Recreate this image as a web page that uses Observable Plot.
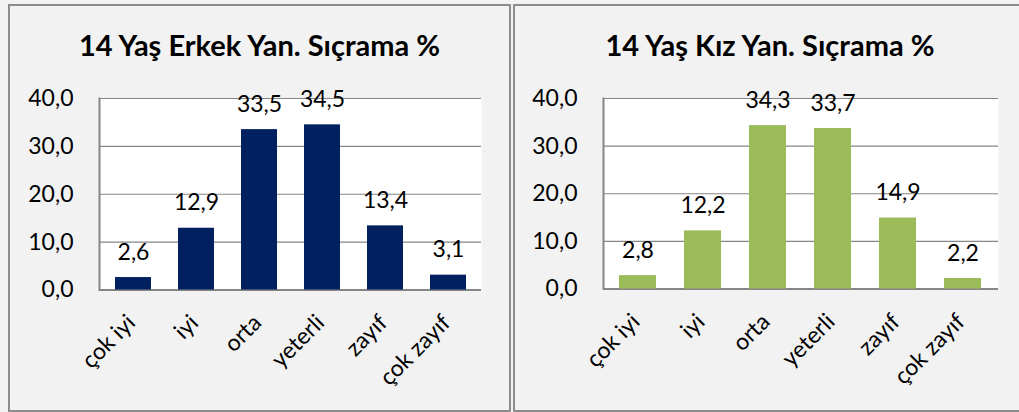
<!DOCTYPE html>
<html><head><meta charset="utf-8">
<script src="https://cdn.jsdelivr.net/npm/d3@7"></script>
<script src="https://cdn.jsdelivr.net/npm/@observablehq/plot@0.6"></script>
<style>
html,body{margin:0;padding:0;background:#f2f2f2;width:1019px;height:412px;overflow:hidden;font-family:Lato,"Open Sans",sans-serif;}
.panel{position:absolute;top:4px;height:408px;box-sizing:border-box;border:2px solid #8c8c8c;background:#f2f2f2;}
.title{position:absolute;left:0;right:0;text-align:center;font-weight:bold;font-size:29px;line-height:1;color:#000;white-space:nowrap;}
.chart{position:absolute;left:0;top:64px;}
</style></head><body>
<div id="p1" class="panel" style="left:8px;width:503px"><div class="title" style="top:24px">14 Yaş Erkek Yan. Sıçrama %</div><div class="chart" id="c1"></div></div>
<div id="p2" class="panel" style="left:513px;width:514px"><div class="title" style="top:24px">14 Yaş Kız Yan. Sıçrama %</div><div class="chart" id="c2"></div></div>
<script>
const categories = ["çok iyi", "iyi", "orta", "yeterli", "zayıf", "çok zayıf"];
const erkekValues = [2.6, 12.9, 33.5, 34.5, 13.4, 3.1];
const kizValues = [2.8, 12.2, 34.3, 33.7, 14.9, 2.2];
const yTicks = [0, 10, 20, 30, 40];
const fmt = d => d.toFixed(1).replace(".", ",");

function makeChart(values, color, o) {
  const data = categories.map((c, i) => ({cat: c, v: values[i]}));
  return Plot.plot({
    width: o.width, height: 340,
    marginTop: 28, marginBottom: o.mb, marginLeft: o.ml, marginRight: o.mr,
    style: {background: "transparent", fontFamily: "Lato, 'Open Sans', sans-serif", fontSize: "23px", color: "#000"},
    x: {domain: categories, paddingInner: 0.43, paddingOuter: 0.215, label: null},
    y: {domain: [0, 40], ticks: yTicks, tickFormat: fmt, label: null, tickSize: 0, tickPadding: 26},
    marks: [
      Plot.frame({fill: "white", stroke: null}),
      Plot.gridY(yTicks, {stroke: "#868686", strokeOpacity: 1, strokeWidth: 1.2}),
      Plot.frame({anchor: "left", stroke: "#868686", strokeWidth: 2}),
      Plot.ruleY([0], {stroke: "#868686", strokeWidth: 2}),
      Plot.barY(data, {x: "cat", y: "v", fill: color}),
      Plot.text(data, {x: "cat", y: "v", text: d => fmt(d.v), dy: -18, lineAnchor: "bottom", fill: "#000"}),
      Plot.axisX({tickSize: 0, tickRotate: -45, tickPadding: 29, dx: -2, label: null})
    ]
  });
}
document.getElementById("c1").append(makeChart(erkekValues, "#002060", {width: 499, ml: 89, mr: 28, mb: 120.5}));
document.getElementById("c2").append(makeChart(kizValues, "#9bbb59", {width: 510, ml: 88, mr: 27, mb: 121.5}));
</script>
</body></html>
